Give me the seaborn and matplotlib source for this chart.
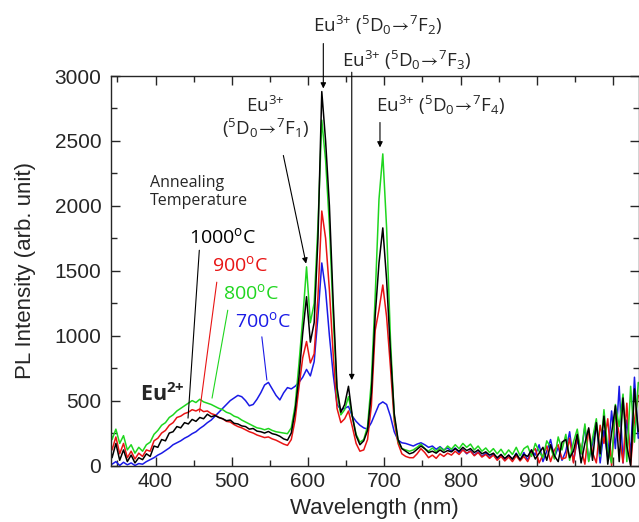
import numpy as np
import pandas as pd
import seaborn as sns
import matplotlib.pyplot as plt

# wavelength grid (nm), 5 nm steps
wavelength = np.arange(338, 1038, 5)

# PL intensity, one list per annealing temperature
pl_1000 = [210, 60, 170, 40, 120, 30, 80, 20, 60, 45,
           90, 70, 150, 140, 200, 190, 250, 260, 300, 290,
           330, 320, 355, 340, 370, 360, 395, 375, 385, 370,
           360, 345, 350, 325, 320, 305, 300, 280, 285, 265,
           260, 250, 262, 245, 238, 225, 205, 195, 250, 420,
           680, 1020, 1300, 950, 1100, 1750, 2880, 2500, 2000, 1250,
           600, 410, 470, 610, 380, 230, 160, 190, 270, 560,
           1150, 1560, 1830, 1430, 880, 400, 200, 130, 110, 90,
           100, 125, 150, 130, 100, 110, 95, 120, 100, 115,
           105, 130, 110, 140, 115, 130, 100, 120, 90, 105,
           80, 95, 60, 85, 55, 80, 50, 90, 45, 85,
           70, 120, 50, 95, 140, 40, 160, 75, 30, 180,
           200, 60, 110, 240, 20, 170, 290, 40, 330, 90,
           380, 10, 250, 460, 30, 520, 150, 0, 590, 260]

pl_900 = [260, 120, 220, 90, 170, 60, 110, 50, 95, 70,
          120, 110, 190, 210, 250, 270, 310, 330, 370, 380,
          400, 410, 430, 420, 435, 415, 420, 400, 390, 370,
          360, 340, 335, 315, 300, 290, 275, 260, 250, 235,
          225, 215, 220, 205, 195, 180, 165, 155, 200, 350,
          600, 830, 955, 790, 860, 1300, 1960, 1750, 1350, 850,
          440, 330, 360, 420, 300, 170, 110, 120, 200, 460,
          1040, 1200, 1390, 1145, 760, 340, 170, 90, 70, 60,
          60, 90, 130, 100, 60, 80, 55, 90, 70, 95,
          80, 110, 85, 120, 95, 110, 75, 100, 65, 85,
          55, 80, 40, 70, 35, 65, 30, 75, 35, 70,
          30, 100, 130, 20, 80, 150, 30, 120, 160, 50,
          60, 210, 20, 230, 130, 10, 280, 100, 20, 310,
          170, 360, 0, 410, 240, 20, 480, 0, 350, 540]

pl_800 = [370, 200, 280, 170, 230, 120, 160, 95, 140, 110,
          160, 180, 240, 270, 310, 330, 370, 390, 420, 440,
          460, 480, 500, 485, 510, 490, 480, 470, 455, 440,
          430, 410, 400, 380, 370, 350, 335, 320, 305, 290,
          285, 275, 285, 270, 260, 255, 250, 245, 290, 460,
          780, 1130, 1530, 1100, 1250, 1850, 2660, 2350, 1850, 1150,
          560, 390, 430, 530, 380, 240, 180, 200, 300, 650,
          1300, 2050, 2400, 1830, 980, 380, 190, 130, 120, 110,
          120, 140, 165, 130, 110, 135, 105, 140, 115, 150,
          125, 160, 130, 170, 140, 165, 120, 150, 110, 135,
          100, 130, 90, 125, 80, 120, 85, 140, 75, 130,
          150, 70, 170, 110, 60, 190, 140, 50, 220, 120,
          240, 40, 180, 280, 90, 320, 30, 210, 360, 70,
          430, 120, 20, 470, 300, 550, 30, 610, 180, 640]

pl_700 = [40, 10, 30, 0, 25, 5, 20, 0, 15, 10,
          30, 45, 60, 80, 95, 115, 135, 160, 175, 190,
          210, 225, 245, 260, 285, 305, 330, 350, 380, 410,
          440, 470, 500, 520, 540, 530, 500, 460, 470, 510,
          560, 620, 640, 590, 540, 505, 560, 600, 590, 610,
          640, 680, 740, 690, 800, 1150, 1560, 1350, 1000, 700,
          470, 430, 440, 455, 380, 340, 310, 290, 280, 330,
          400, 470, 490, 470, 380, 260, 195, 175, 170, 160,
          150, 165, 175, 160, 140, 150, 125, 145, 120, 135,
          110, 135, 100, 125, 90, 115, 80, 105, 70, 95,
          60, 90, 50, 85, 40, 80, 45, 95, 40, 100,
          40, 120, 80, 160, 30, 110, 200, 60, 140, 40,
          110, 260, 30, 200, 90, 300, 40, 170, 330, 20,
          270, 60, 420, 130, 610, 20, 350, 90, 680, 210]

temps = ['700', '900', '800', '1000']
colors = {'700': '#1a1ae6', '900': '#e81414', '800': '#1fd61f', '1000': '#000000'}

df = pd.concat([
    pd.DataFrame({'wavelength': wavelength, 'intensity': vals, 'temp': t})
    for t, vals in zip(temps, [pl_700, pl_900, pl_800, pl_1000])
])

sns.set_style('ticks')
plt.rcParams['font.family'] = ['Liberation Sans', 'DejaVu Sans']
plt.rcParams['mathtext.default'] = 'regular'

fig = plt.figure(figsize=(6.39, 5.22), dpi=100)
ax = fig.add_axes([111 / 639, 56.5 / 522, 527.5 / 639, 389.5 / 522])

sns.lineplot(data=df, x='wavelength', y='intensity', hue='temp', hue_order=temps,
             palette=colors, estimator=None, linewidth=1.1, legend=False, ax=ax)

ax.set_xlim(341.6, 1033.3)
ax.set_ylim(0, 3000)
ax.set_xticks([400, 500, 600, 700, 800, 900, 1000])
ax.set_xticks(np.arange(350, 1050, 50), minor=True)
ax.set_yticks([0, 500, 1000, 1500, 2000, 2500, 3000])
ax.set_yticks(np.arange(0, 3001, 250), minor=True)
ax.tick_params(which='both', direction='in', top=True, right=True, width=1, labelsize=15)
ax.tick_params(which='major', length=6.5)
ax.tick_params(which='minor', length=4)
ax.tick_params(axis='y', pad=7)
ax.tick_params(axis='x', pad=5)
for s in ax.spines.values():
    s.set_linewidth(1.0)
ax.set_xlabel('Wavelength (nm)', fontsize=16, labelpad=5)
ax.set_ylabel('PL Intensity (arb. unit)', fontsize=16, labelpad=13)

afont = ['Open Sans', 'DejaVu Sans']
head = dict(arrowstyle='-|>', color='black', lw=0.8, mutation_scale=8, shrinkA=0, shrinkB=0)


def trans(n):
    return 'Eu$^{3{+}}$ ($^{5}$D$_{0}$$\\!\\rightarrow\\!$$^{7}$F$_{%d}$)' % n


# Eu3+ transition labels
ax.text(691.8, 3388, trans(2), ha='center', va='center', fontsize=13.5, family=afont,
        clip_on=False)
ax.annotate('', xy=(620, 2904), xytext=(620, 3250), arrowprops=head, annotation_clip=False)
ax.text(729.8, 3119, trans(3), ha='center', va='center', fontsize=13.5, family=afont,
        clip_on=False)
ax.annotate('', xy=(657.3, 658), xytext=(657.3, 3029), arrowprops=head, annotation_clip=False)
ax.text(774.4, 2773, trans(4), ha='center', va='center', fontsize=13.5, family=afont)
ax.annotate('', xy=(694.3, 2450), xytext=(694.3, 2642), arrowprops=head)
ax.text(543.6, 2773, 'Eu$^{3{+}}$', ha='center', va='center', fontsize=13.5, family=afont)
ax.text(543.6, 2596, '($^{5}$D$_{0}$$\\!\\rightarrow\\!$$^{7}$F$_{1}$)', ha='center',
        va='center', fontsize=13.5, family=afont)
ax.annotate('', xy=(597.4, 1555), xytext=(567.6, 2388), arrowprops=head)

# annealing temperature labels
ax.text(392.8, 2240, 'Annealing\nTemperature', ha='left', va='top', fontsize=11.5,
        family=afont, linespacing=1.2)
labels = [('1000$^{o}$C', 488.5, 1758, '1000', (457.4, 1658), (442.6, 365)),
          ('900$^{o}$C', 510.8, 1542, '900', (480.3, 1412), (457.7, 412)),
          ('800$^{o}$C', 525.2, 1327, '800', (494.7, 1196), (474.1, 519)),
          ('700$^{o}$C', 541.0, 1112, '700', (539.4, 991), (546.0, 658))]
for txt, x, y, t, p0, p1 in labels:
    ax.text(x, y, txt, ha='center', va='center', fontsize=14, family=afont, color=colors[t])
    ax.plot([p0[0], p1[0]], [p0[1], p1[1]], color=colors[t], lw=0.8)

ax.text(408.5, 545, 'Eu$^{2{+}}$', ha='center', va='center', fontsize=15.5, fontweight='bold',
        family=afont)

fig.savefig('out.png', dpi=100)
